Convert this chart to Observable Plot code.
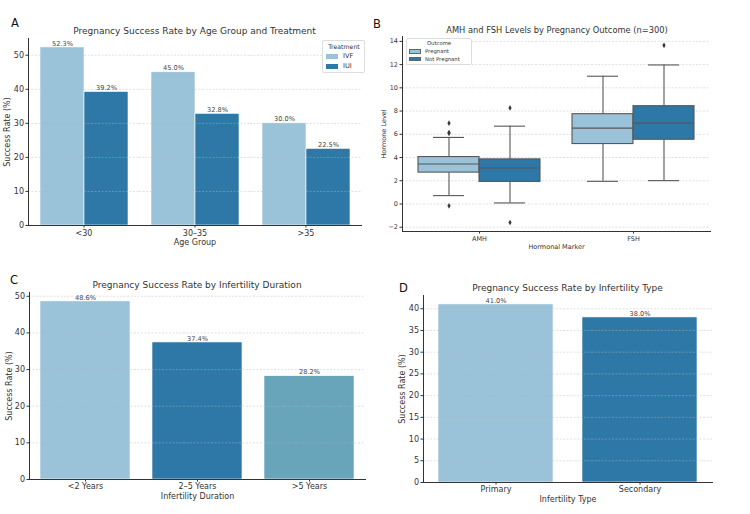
<!DOCTYPE html>
<html>
<head>
<meta charset="utf-8">
<script src="https://cdn.jsdelivr.net/npm/d3@7"></script>
<script src="https://cdn.jsdelivr.net/npm/@observablehq/plot@0.6"></script>
<style>
  body { margin: 0; background: #fff; font-family: "DejaVu Sans", sans-serif; }
  #fig { position: relative; width: 750px; height: 514px; overflow: hidden; background: #fff; }
  .panel { position: absolute; }
  .letter { position: absolute; font-size: 11.5px; color: #111; line-height: 1; }
  .title { position: absolute; transform: translate(-50%, -50%); white-space: nowrap; color: #333; line-height: 1; }
  .legend { position: absolute; border: 1px solid #ddd; border-radius: 2px; background: rgba(255,255,255,0.85); color: #333; line-height: 1; }
  .legend .lt { text-align: center; }
  .legend .row { display: flex; align-items: center; }
  .legend .sw { display: inline-block; border: 1px solid #666; box-sizing: border-box; }
</style>
</head>
<body>
<div id="fig"></div>
<script>
// Panel A: success rate by age group and treatment
const ageGroups = ["<30", "30–35", ">35"];
const treatments = ["IVF", "IUI"];
const ivfRates = [52.3, 45.0, 30.0];
const iuiRates = [39.2, 32.8, 22.5];

// Panel B: box-plot summaries (whisker low, Q1, median, Q3, whisker high)
const markers = ["AMH", "FSH"];
const outcomes = ["Pregnant", "Not Pregnant"];
const boxMarker = ["AMH", "AMH", "FSH", "FSH"];
const boxOutcome = ["Pregnant", "Not Pregnant", "Pregnant", "Not Pregnant"];
const whiskerLow = [0.72, 0.09, 1.95, 2.01];
const quartile1 = [2.70, 1.90, 5.16, 5.53];
const medians = [3.44, 3.10, 6.53, 6.96];
const quartile3 = [4.04, 3.84, 7.73, 8.42];
const whiskerHigh = [5.73, 6.70, 11.00, 11.97];
const outlierMarker = ["AMH", "AMH", "AMH", "AMH", "AMH", "AMH", "FSH"];
const outlierOutcome = ["Pregnant", "Pregnant", "Pregnant", "Pregnant", "Not Pregnant", "Not Pregnant", "Not Pregnant"];
const outlierValue = [6.96, 6.15, 6.08, -0.16, 8.27, -1.60, 13.66];

// Panel C: success rate by infertility duration
const durations = ["<2 Years", "2–5 Years", ">5 Years"];
const durationRates = [48.6, 37.4, 28.2];

// Panel D: success rate by infertility type
const infertilityTypes = ["Primary", "Secondary"];
const typeRates = [41.0, 38.0];

const LIGHT = "#9ac2d8", DARK = "#2e78a7", TEAL = "#68a4ba";
const INK = "#333";
const FONT = "DejaVu Sans";

const fig = document.getElementById("fig");

function place(node, left, top) {
  node.classList.add("panel");
  node.style.left = left + "px";
  node.style.top = top + "px";
  fig.appendChild(node);
}
function addText(cls, text, x, y, size) {
  const d = document.createElement("div");
  d.className = cls;
  d.textContent = text;
  d.style.left = x + "px";
  d.style.top = y + "px";
  if (size) d.style.fontSize = size + "px";
  fig.appendChild(d);
  return d;
}
function addLegend(x, y, w, title, items, opts) {
  const box = document.createElement("div");
  box.className = "legend";
  box.style.left = x + "px";
  box.style.top = y + "px";
  box.style.width = w + "px";
  box.style.padding = opts.pad;
  box.style.fontSize = opts.font + "px";
  const t = document.createElement("div");
  t.className = "lt";
  t.textContent = title;
  t.style.fontSize = opts.titleFont + "px";
  t.style.marginBottom = opts.titleGap + "px";
  box.appendChild(t);
  items.forEach(([label, color]) => {
    const r = document.createElement("div");
    r.className = "row";
    r.style.marginTop = opts.rowGap + "px";
    const s = document.createElement("span");
    s.className = "sw";
    s.style.width = opts.sw + "px";
    s.style.height = opts.sh + "px";
    s.style.background = color;
    s.style.marginRight = opts.swGap + "px";
    if (!opts.swBorder) s.style.border = "none";
    r.appendChild(s);
    const l = document.createElement("span");
    l.textContent = label;
    r.appendChild(l);
    box.appendChild(r);
  });
  fig.appendChild(box);
}

const grid = (ticks) => Plot.gridY(ticks, {stroke: "#b8b8b8", strokeOpacity: 0.55, strokeDasharray: "2,1.5", strokeWidth: 0.8});
const pct = d => d.rate.toFixed(1) + "%";
const baseStyle = {fontFamily: FONT, color: INK, background: "transparent", overflow: "visible"};

// ---------- A ----------
const ageData = ageGroups.flatMap((g, i) => [
  {group: g, treatment: "IVF", rate: ivfRates[i]},
  {group: g, treatment: "IUI", rate: iuiRates[i]}
]);
const ticksA = [0, 10, 20, 30, 40, 50];
const chartA = Plot.plot({
  width: 375, height: 257,
  marginTop: 38, marginLeft: 27, marginRight: 13, marginBottom: 32,
  style: {...baseStyle, fontSize: "8px"},
  fx: {domain: ageGroups, padding: 0},
  x: {domain: treatments, paddingInner: 0, paddingOuter: 0.25, axis: null},
  y: {domain: [0, 54.92]},
  color: {domain: treatments, range: [LIGHT, DARK]},
  marks: [
    Plot.barY(ageData, {fx: "group", x: "treatment", y: "rate", fill: "treatment", stroke: "#fff", strokeWidth: 0.6}),
    grid(ticksA.slice(1)),
    Plot.text(ageData, {fx: "group", x: "treatment", y: "rate", text: pct, dy: -4, fontSize: 6.6, fill: "#444"}),
    Plot.axisY(ticksA, {tickSize: 2.5, tickPadding: 2, fontSize: 8, label: "Success Rate (%)", labelAnchor: "center", labelArrow: "none", labelOffset: 24}),
    Plot.axisFx({anchor: "bottom", tickSize: 2.5, tickPadding: 2, fontSize: 8, label: "Age Group", labelAnchor: "center", labelArrow: "none", labelOffset: 19}),
    Plot.frame({anchor: "left", facetAnchor: "left", stroke: INK}),
    Plot.frame({anchor: "bottom", stroke: INK})
  ]
});
place(chartA, 0, 0);

// ---------- B ----------
const boxes = boxMarker.map((m, i) => ({
  marker: m, outcome: boxOutcome[i],
  lo: whiskerLow[i], q1: quartile1[i], med: medians[i], q3: quartile3[i], hi: whiskerHigh[i]
}));
const outliers = outlierMarker.map((m, i) => ({marker: m, outcome: outlierOutcome[i], value: outlierValue[i]}));
const ticksB = [-2, 0, 2, 4, 6, 8, 10, 12, 14];
const EDGE = "#575757";
const chartB = Plot.plot({
  width: 375, height: 257,
  marginTop: 36, marginLeft: 27, marginRight: 40, marginBottom: 26,
  style: {...baseStyle, fontSize: "6.5px"},
  fx: {domain: markers, padding: 0},
  x: {domain: outcomes, paddingInner: 0, paddingOuter: 0.25, axis: null},
  y: {domain: [-2.37, 14.42]},
  color: {domain: outcomes, range: [LIGHT, DARK]},
  marks: [
    grid(ticksB),
    Plot.ruleX(boxes, {fx: "marker", x: "outcome", y1: "lo", y2: "q1", stroke: EDGE, strokeWidth: 1.1}),
    Plot.ruleX(boxes, {fx: "marker", x: "outcome", y1: "q3", y2: "hi", stroke: EDGE, strokeWidth: 1.1}),
    Plot.tickY(boxes, {fx: "marker", x: "outcome", y: "lo", insetLeft: 15, insetRight: 15, stroke: EDGE, strokeWidth: 1.1}),
    Plot.tickY(boxes, {fx: "marker", x: "outcome", y: "hi", insetLeft: 15, insetRight: 15, stroke: EDGE, strokeWidth: 1.1}),
    Plot.barY(boxes, {fx: "marker", x: "outcome", y1: "q1", y2: "q3", fill: "outcome", stroke: EDGE, strokeWidth: 1.1}),
    Plot.tickY(boxes, {fx: "marker", x: "outcome", y: "med", stroke: EDGE, strokeWidth: 1.1}),
    Plot.dot(outliers, {fx: "marker", x: "outcome", y: "value", symbol: "diamond", r: 1.7, fill: "#3a3a3a", stroke: null}),
    Plot.axisY(ticksB, {tickSize: 2.5, tickPadding: 2, fontSize: 6.5, label: "Hormone Level", labelAnchor: "center", labelArrow: "none", labelOffset: 21}),
    Plot.axisFx({anchor: "bottom", tickSize: 2.5, tickPadding: 2, fontSize: 6.5, label: "Hormonal Marker", labelAnchor: "center", labelArrow: "none", labelOffset: 17}),
    Plot.frame({anchor: "left", facetAnchor: "left", stroke: INK}),
    Plot.frame({anchor: "bottom", stroke: INK})
  ]
});
place(chartB, 375, 0);

// ---------- C ----------
const durData = durations.map((d, i) => ({duration: d, rate: durationRates[i]}));
const ticksC = [0, 10, 20, 30, 40, 50];
const chartC = Plot.plot({
  width: 375, height: 257,
  marginTop: 35, marginLeft: 29, marginRight: 10, marginBottom: 35,
  style: {...baseStyle, fontSize: "8px"},
  x: {domain: durations, paddingInner: 0.2, paddingOuter: 0.1},
  y: {domain: [0, 51.03]},
  color: {domain: durations, range: [LIGHT, DARK, TEAL]},
  marks: [
    Plot.barY(durData, {x: "duration", y: "rate", fill: "duration", stroke: "#fff", strokeWidth: 0.6}),
    grid(ticksC.slice(1)),
    Plot.text(durData, {x: "duration", y: "rate", text: pct, dy: -4, fontSize: 6.6, fill: "#444"}),
    Plot.axisY(ticksC, {tickSize: 2.5, tickPadding: 2, fontSize: 8, label: "Success Rate (%)", labelAnchor: "center", labelArrow: "none", labelOffset: 23}),
    Plot.axisX({tickSize: 2.5, tickPadding: 1, fontSize: 8, label: "Infertility Duration", labelAnchor: "center", labelArrow: "none", labelOffset: 19}),
    Plot.frame({anchor: "left", stroke: INK}),
    Plot.frame({anchor: "bottom", stroke: INK})
  ]
});
place(chartC, 0, 257);

// ---------- D ----------
const typeData = infertilityTypes.map((t, i) => ({type: t, rate: typeRates[i]}));
const ticksD = [0, 5, 10, 15, 20, 25, 30, 35, 40];
const chartD = Plot.plot({
  width: 375, height: 257,
  marginTop: 38, marginLeft: 48, marginRight: 38, marginBottom: 32,
  style: {...baseStyle, fontSize: "8px"},
  x: {domain: infertilityTypes, paddingInner: 0.2, paddingOuter: 0.1},
  y: {domain: [0, 43.05]},
  color: {domain: infertilityTypes, range: [LIGHT, DARK]},
  marks: [
    Plot.barY(typeData, {x: "type", y: "rate", fill: "type", stroke: "#fff", strokeWidth: 0.6}),
    grid(ticksD.slice(1)),
    Plot.text(typeData, {x: "type", y: "rate", text: pct, dy: -4, fontSize: 6.6, fill: "#444"}),
    Plot.axisY(ticksD, {tickSize: 2.5, tickPadding: 2, fontSize: 8, label: "Success Rate (%)", labelAnchor: "center", labelArrow: "none", labelOffset: 24}),
    Plot.axisX({tickSize: 2.5, tickPadding: 1, fontSize: 8, label: "Infertility Type", labelAnchor: "center", labelArrow: "none", labelOffset: 19}),
    Plot.frame({anchor: "left", stroke: INK}),
    Plot.frame({anchor: "bottom", stroke: INK})
  ]
});
place(chartD, 375, 257);

// ---------- titles, panel letters, legends ----------
addText("title", "Pregnancy Success Rate by Age Group and Treatment", 194.5, 31, 9.0);
addText("title", "AMH and FSH Levels by Pregnancy Outcome (n=300)", 557, 30, 8.3);
addText("title", "Pregnancy Success Rate by Infertility Duration", 197, 285, 9.0);
addText("title", "Pregnancy Success Rate by Infertility Type", 567.5, 288, 9.0);

addText("letter", "A", 11, 18);
addText("letter", "B", 373, 19);
addText("letter", "C", 10, 275);
addText("letter", "D", 399, 283);

addLegend(322, 40, 36, "Treatment", [["IVF", LIGHT], ["IUI", DARK]],
  {pad: "3px 2px 3px 3px", font: 6.6, titleFont: 6.2, titleGap: 1, rowGap: 3, sw: 12, sh: 5, swGap: 5, swBorder: false});
addLegend(406, 38, 60, "Outcome", [["Pregnant", LIGHT], ["Not Pregnant", DARK]],
  {pad: "2px 2px 2px 2px", font: 5.3, titleFont: 5.3, titleGap: 0, rowGap: 2.5, sw: 12, sh: 4.5, swGap: 4, swBorder: true});
</script>
</body>
</html>
